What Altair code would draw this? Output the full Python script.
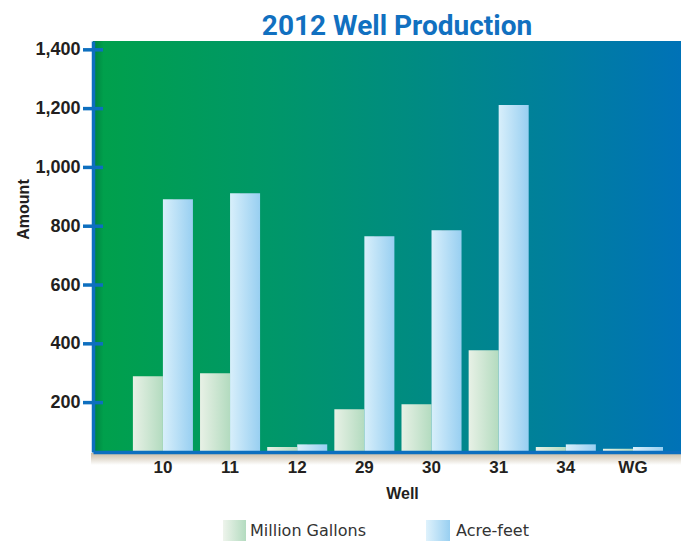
import altair as alt
import pandas as pd

# ---- data ----
wells = ["10", "11", "12", "29", "30", "31", "34", "WG"]
million_gallons = [290, 300, 49, 177, 194, 378, 49, 43]
acre_feet = [892, 912, 58, 766, 786, 1212, 58, 49]
series_names = ["Million Gallons", "Acre-feet"]
y_tick_values = [200, 400, 600, 800, 1000, 1200, 1400]

rows = []
for w, mg, af in zip(wells, million_gallons, acre_feet):
    rows.append({"well": w, "series": series_names[0], "value": mg})
    rows.append({"well": w, "series": series_names[1], "value": af})
df = pd.DataFrame(rows)
df_mg = df[df.series == series_names[0]]
df_af = df[df.series == series_names[1]]
tick_df = pd.DataFrame({"value": y_tick_values})
one = pd.DataFrame({"k": [0]})
leg_mg = pd.DataFrame({"label": [series_names[0]]})
leg_af = pd.DataFrame({"label": [series_names[1]]})

# ---- styles ----
BLUE = "#0d6fbf"
W, H = 588, 411
Y_MIN = 32
AXIS_FONT = "Liberation Sans, Arial, Helvetica, sans-serif"
LABEL_COLOR = "#231f20"


def hgrad(stops):
    return alt.LinearGradient(
        gradient="linear",
        stops=[alt.GradientStop(color=c, offset=o) for o, c in stops],
        x1=0, x2=1, y1=0, y2=0,
    )


def vgrad(stops):
    return alt.LinearGradient(
        gradient="linear",
        stops=[alt.GradientStop(color=c, offset=o) for o, c in stops],
        x1=0, x2=0, y1=0, y2=1,
    )


bg_grad = hgrad([(0, "#00803f"), (0.018, "#00a04c"), (0.3, "#009768"),
                 (0.55, "#008b82"), (0.8, "#007e9f"), (1, "#0072b7")])
mg_grad = hgrad([(0, "#e8f1e6"), (1, "#b3dbbf")])
af_grad = hgrad([(0, "#d8effb"), (1, "#98cff1")])
shadow_grad = hgrad([(0, "rgba(0,35,30,0.45)"), (1, "rgba(0,35,30,0)")])
floor_grad = vgrad([(0, "#c9bca5"), (1, "#ffffff")])

x_axis = alt.Axis(
    title="Well", labelAngle=0, ticks=False, grid=False,
    domainColor=BLUE, domainWidth=3.5, zindex=1,
    labelFont=AXIS_FONT, labelFontWeight="bold", labelFontSize=17,
    labelColor=LABEL_COLOR, labelPadding=20, labelBaseline="alphabetic",
    titleFont=AXIS_FONT, titleFontWeight="bold", titleFontSize=16,
    titleColor=LABEL_COLOR, titleBaseline="alphabetic", titleX=309, titleY=46,
)
y_axis = alt.Axis(
    title="Amount", values=y_tick_values, format=",d", ticks=False, grid=False,
    domainColor=BLUE, domainWidth=3.5, zindex=1,
    labelFont=AXIS_FONT, labelFontWeight="bold", labelFontSize=18,
    labelColor=LABEL_COLOR, labelPadding=13,
    titleFont=AXIS_FONT, titleFontWeight="bold", titleFontSize=16,
    titleColor=LABEL_COLOR, titleAngle=270, titleBaseline="alphabetic",
    titleAlign="center", titleX=-65, titleY=168,
)

x_enc = alt.X("well:N", sort=wells, axis=x_axis,
              scale=alt.Scale(domain=wells, paddingInner=0.106,
                              paddingOuter=0.431, align=0.689))
xo_enc = alt.XOffset("series:N", sort=series_names,
                     scale=alt.Scale(domain=series_names, paddingInner=0, paddingOuter=0))
y_scale = alt.Scale(domain=[Y_MIN, 1430], nice=False, zero=False)
y_enc = alt.Y("value:Q", axis=y_axis, scale=y_scale)
y2_enc = alt.datum(Y_MIN)

background = alt.Chart(one).mark_rect(color=bg_grad).encode(
    x=alt.value(0), x2=alt.value("width"), y=alt.value(0), y2=alt.value("height"))

floor = alt.Chart(one).mark_rect(color=floor_grad).encode(
    x=alt.value(-2), x2=alt.value("width"), y=alt.value(H + 1), y2=alt.value(H + 13))

shadows = alt.Chart(df_af).mark_bar(color=shadow_grad, width=10, xOffset=20, clip=True).encode(
    x=x_enc, xOffset=xo_enc, y=y_enc, y2=y2_enc)

bars_mg = alt.Chart(df_mg).mark_bar(color=mg_grad, clip=True).encode(
    x=x_enc, xOffset=xo_enc, y=y_enc, y2=y2_enc)

bars_af = alt.Chart(df_af).mark_bar(color=af_grad, clip=True).encode(
    x=x_enc, xOffset=xo_enc, y=y_enc, y2=y2_enc)

ticks = alt.Chart(tick_df).mark_rule(color=BLUE, strokeWidth=3.5).encode(
    x=alt.value(-10), x2=alt.value(10), y=y_enc)

# manual legend (gradient swatches)
sw_mg = alt.Chart(one).mark_rect(color=hgrad([(0, "#eef4ec"), (1, "#b3dbbf")])).encode(
    x=alt.value(130), x2=alt.value(153), y=alt.value(479), y2=alt.value(510))
sw_af = alt.Chart(one).mark_rect(color=hgrad([(0, "#dff2fc"), (1, "#98cff1")])).encode(
    x=alt.value(333), x2=alt.value(357), y=alt.value(479), y2=alt.value(510))
txt_mg = alt.Chart(leg_mg).mark_text(
    align="left", baseline="alphabetic", font="DejaVu Sans", fontSize=16,
    color="#333333").encode(x=alt.value(157), y=alt.value(495), text="label:N")
txt_af = alt.Chart(leg_af).mark_text(
    align="left", baseline="alphabetic", font="DejaVu Sans", fontSize=16,
    color="#333333").encode(x=alt.value(363), y=alt.value(495), text="label:N")

chart = alt.layer(
    background, floor, shadows, bars_mg, bars_af, ticks,
    sw_mg, sw_af, txt_mg, txt_af,
).properties(
    width=W, height=H,
    autosize=alt.AutoSizeParams(type="none"),
    padding={"left": 85, "top": 33, "right": 0, "bottom": 89},
    title=alt.TitleParams(
        "2012 Well Production",
        font="Roboto, Liberation Sans, sans-serif",
        fontSize=28, fontWeight="bold", color="#1170c0",
        anchor="middle", dx=10, offset=0,
    ),
).configure_view(stroke=None).configure(background="white")

chart.save("out.html", embed_options={"renderer": "svg", "actions": False})
